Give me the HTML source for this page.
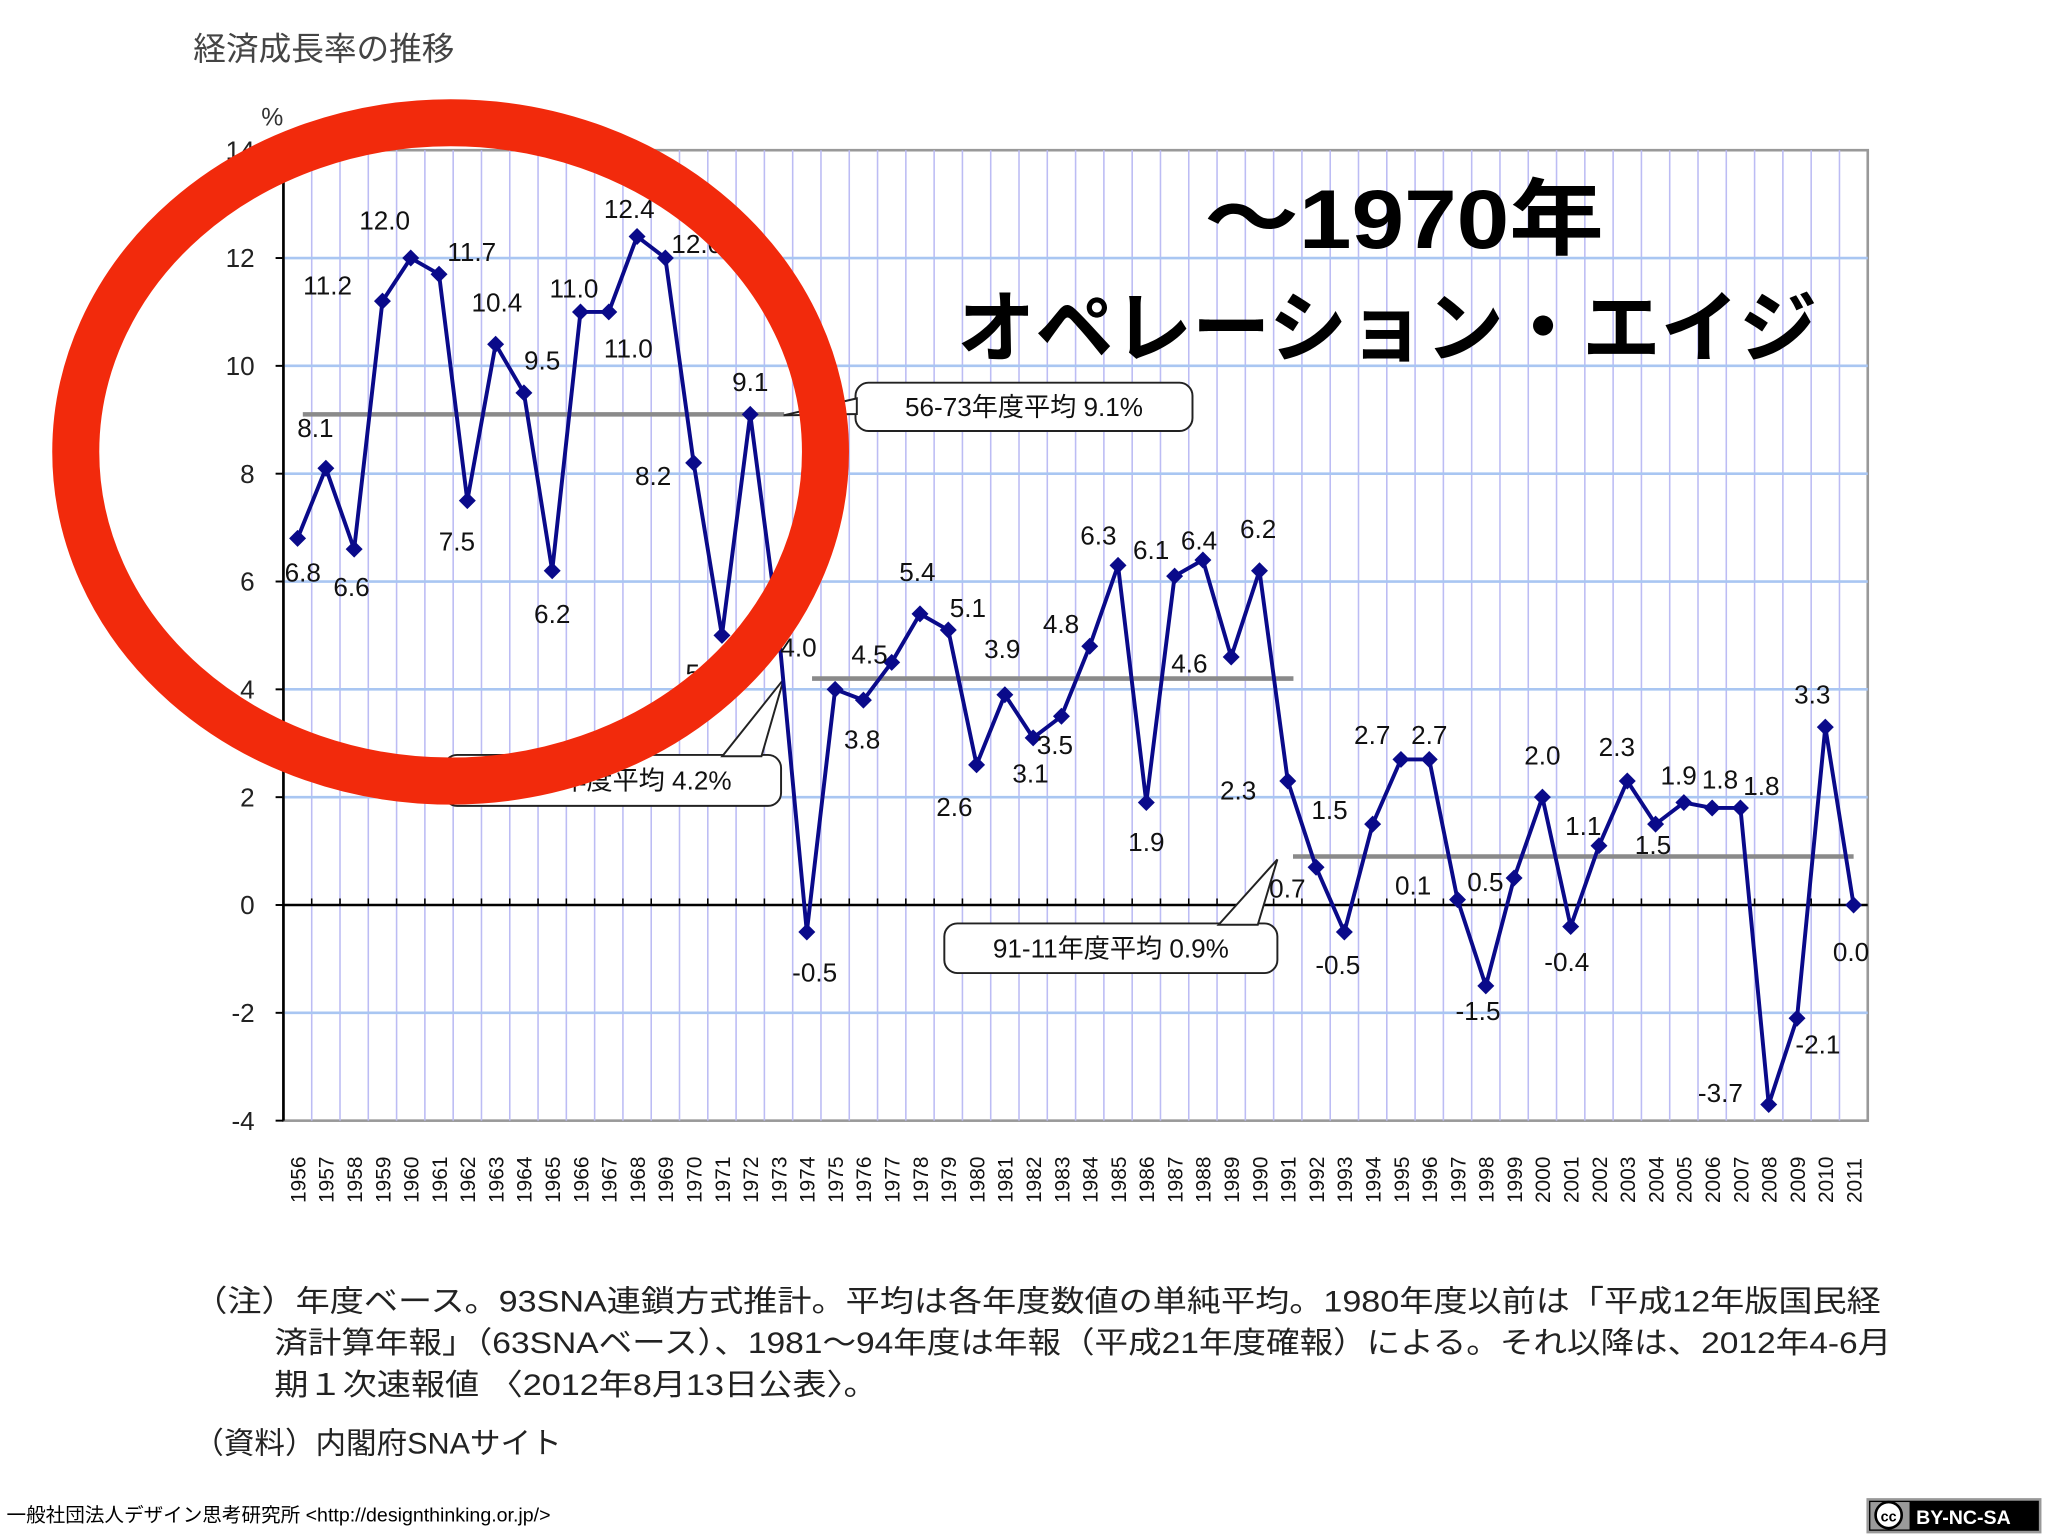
<!DOCTYPE html>
<html><head><meta charset="utf-8"><style>
html,body{margin:0;padding:0;background:#fff;}
svg{display:block;}
text{font-family:"Liberation Sans","Noto Sans CJK JP",sans-serif;}
</style></head><body>
<svg id="chart" width="2048" height="1536" viewBox="0 0 1568 1176">
<rect x="0" y="0" width="1568" height="1176" fill="#fff"/>
<text x="148" y="46" font-size="25" fill="#444">経済成長率の推移</text>
<text x="200" y="96" font-size="19" fill="#333">%</text>
<g id="plot"></g>
<g id="callouts"></g>
<g id="marks"></g>
<ellipse cx="345" cy="346" rx="287" ry="252" fill="none" stroke="#f22a0c" stroke-width="36"/>
<text x="922" y="190" font-size="64" font-weight="bold" fill="#000" textLength="306" lengthAdjust="spacingAndGlyphs">〜1970年</text>
<text x="1062" y="272" text-anchor="middle" font-size="60" font-weight="bold" fill="#000">オペレーション・エイジ</text>
<g font-size="23" fill="#222">
<text x="148" y="1004" textLength="1292" lengthAdjust="spacingAndGlyphs">（注）年度ベース。93SNA連鎖方式推計。平均は各年度数値の単純平均。1980年度以前は「平成12年版国民経</text>
<text x="210" y="1036" textLength="1238" lengthAdjust="spacingAndGlyphs">済計算年報」（63SNAベース）、1981～94年度は年報（平成21年度確報）による。それ以降は、2012年4-6月</text>
<text x="210" y="1068" textLength="462" lengthAdjust="spacingAndGlyphs">期１次速報値 〈2012年8月13日公表〉。</text>
<text x="148" y="1113" textLength="282" lengthAdjust="spacingAndGlyphs">（資料）内閣府SNAサイト</text>
</g>
<text x="5" y="1165" font-size="15" fill="#000">一般社団法人デザイン思考研究所 &lt;http://designthinking.or.jp/&gt;</text>
<g>
<rect x="1430" y="1148" width="132" height="25" fill="#000" stroke="#999" stroke-width="2"/>
<rect x="1432" y="1150" width="30" height="21" fill="#9a9a9a"/>
<circle cx="1446" cy="1160" r="10" fill="#fff" stroke="#000" stroke-width="2"/>
<text x="1446" y="1165" text-anchor="middle" font-size="11" font-weight="bold" fill="#000">cc</text>
<text x="1467" y="1167" font-size="15" font-weight="bold" fill="#fff">BY-NC-SA</text>
</g>
</svg>
<script>
const years = [];
for (let y = 1956; y <= 2011; y++) years.push(String(y));
const growth = [6.8,8.1,6.6,11.2,12.0,11.7,7.5,10.4,9.5,6.2,11.0,11.0,12.4,12.0,8.2,5.0,9.1,5.1,-0.5,4.0,3.8,4.5,5.4,5.1,2.6,3.9,3.1,3.5,4.8,6.3,1.9,6.1,6.4,4.6,6.2,2.3,0.7,-0.5,1.5,2.7,2.7,0.1,-1.5,0.5,2.0,-0.4,1.1,2.3,1.5,1.9,1.8,1.8,-3.7,-2.1,3.3,0.0];
const showLabel = growth.map((v,i)=> years[i] !== '1973');
const yTicks = [14,12,10,8,6,4,2,0,-2,-4];
const avgValues = [9.1, 4.2, 0.9];
const avgStart = ['1956','1974','1991'];
const avgEnd = ['1972','1990','2011'];
const avgLabels = ['56-73年度平均 9.1%','74-90年度平均 4.2%','91-11年度平均 0.9%'];
// label offsets (styling only)
const lblOff = [[4,26],[-8,-31],[-2,29],[-42,-12],[-20,-29],[25,-17],[-8,31],[1,-32],[14,-25],[0,33],[-5,-18],[15,28],[-6,-21],[24,-11],[-31,10],[-14,29],[0,-25],[0,0],[6,31],[-28,-32],[-1,30],[-17,-6],[-2,-32],[15,-17],[-17,32],[-2,-35],[-2,27],[-5,22],[-22,-17],[-15,-23],[0,30],[-18,-20],[-3,-15],[-32,5],[-1,-32],[-38,7],[-22,16],[-5,25],[-33,-11],[-22,-19],[0,-19],[-34,-11],[-6,19],[-22,3],[0,-32],[-3,27],[-12,-15],[-8,-26],[-2,16],[-4,-21],[6,-22],[16,-17],[-37,-9],[16,20],[-10,-25],[-2,36]];

const L=217,R=1430,T=115,B=858, yMax=14, yMin=-4;
const n=years.length, step=(R-L)/n;
const xPos = i => L + (i+0.5)*step;
const yPos = v => T + (yMax - v)/(yMax - yMin)*(B-T);
const NS='http://www.w3.org/2000/svg';
function mk(tag, attrs, parent){const e=document.createElementNS(NS,tag);for(const k in attrs)e.setAttribute(k,attrs[k]);parent.appendChild(e);return e;}
const plot=document.getElementById('plot'), marks=document.getElementById('marks'), call=document.getElementById('callouts');

let bg=mk('rect',{x:L,y:T,width:R-L,height:B-T,fill:'#fff',stroke:'#999','stroke-width':2},plot);


for(let k=1;k<n;k++){
  let g=mk('line',{x1:L+k*step,x2:L+k*step,y1:T,y2:B,stroke:'#bcbcf4','stroke-width':1.2},plot);
  
  
}
yTicks.forEach(t=>{
  const y=yPos(t);
  if(t!==yMax && t!==yMin && t!==0){
    let g=mk('line',{x1:L,x2:R,y1:y,y2:y,stroke:'#a9c6f2','stroke-width':2},plot);
    
    
  }
  let tk=mk('line',{x1:L-6,x2:L,y1:y,y2:y,stroke:'#000','stroke-width':1.5},plot);
  
  
  let tl=mk('text',{x:195,y:y+7,'text-anchor':'end','font-size':20,fill:'#222'},plot);
  tl.textContent=String(t);
  
  
});
let zl=mk('line',{x1:L,x2:R,y1:yPos(0),y2:yPos(0),stroke:'#000','stroke-width':2},plot);


for(let k=1;k<n;k++){
  let t=mk('line',{x1:L+k*step,x2:L+k*step,y1:yPos(0)-5,y2:yPos(0),stroke:'#000','stroke-width':1.2},plot);
  
  
}
let ya=mk('line',{x1:L,x2:L,y1:T,y2:B,stroke:'#000','stroke-width':2},plot);


years.forEach((yr,i)=>{
  const x=xPos(i);
  let t=mk('text',{x:0,y:0,'font-size':16,fill:'#111',transform:`translate(${x+6},921) rotate(-90)`},plot);
  t.textContent=yr;
  
  
});

const boxes=[[655,293,258,37,600,318],[340,578,258,39,600,520],[723,707,255,38,978,658]];
avgValues.forEach((v,j)=>{
  const i0=years.indexOf(avgStart[j]), i1=years.indexOf(avgEnd[j]);
  const y=yPos(v);
  let l=mk('line',{x1:xPos(i0)+4,x2:xPos(i1)+(j===2?0:26),y1:y,y2:y,stroke:'#8a8a8a','stroke-width':3.5},plot);
  
  
  const [bx,by,bw,bh,tx,ty]=boxes[j];
  let bp=mk('rect',{x:bx,y:by,width:bw,height:bh,rx:10,fill:'#fff',stroke:'#222','stroke-width':1.5},call);
  
  
  const mx = j===0 ? bx : bx+bw-45;
  const ey = j===0 ? by+bh/2 : by;
  let tail=mk('polygon',{points: j===0 ? `${bx+1},${by+12} ${tx},${ty} ${bx+1},${by+24}` : `${mx},${ey+1} ${tx},${ty} ${mx+30},${ey+1}`,fill:'#fff',stroke:'#222','stroke-width':1.5},call);
  
  
  let tt=mk('text',{x:bx+bw/2,y:by+bh/2+7,'text-anchor':'middle','font-size':20,fill:'#111'},call);
  tt.textContent=avgLabels[j];
  
  
});

let pts=growth.map((v,i)=>xPos(i)+','+yPos(v)).join(' ');
let line=mk('polyline',{points:pts,fill:'none',stroke:'#0a0a8a','stroke-width':3,'stroke-linejoin':'round'},marks);


growth.forEach((v,i)=>{
  const x=xPos(i), y=yPos(v), s=6.5;
  let d=mk('polygon',{points:`${x},${y-s} ${x+s},${y} ${x},${y+s} ${x-s},${y}`,fill:'#0a0a8a'},marks);
  
  
  if(showLabel[i]){
    let t=mk('text',{x:x+lblOff[i][0],y:y+lblOff[i][1]+7,'text-anchor':'middle','font-size':20,fill:'#111'},marks);
    t.textContent=v.toFixed(1);
    
    
  }
});
</script>
</body></html>
